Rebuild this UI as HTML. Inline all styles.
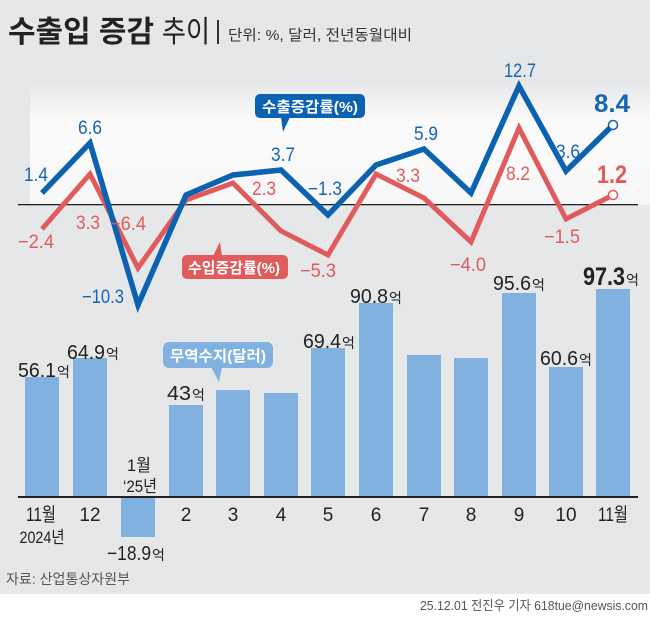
<!DOCTYPE html>
<html><head><meta charset="utf-8"><style>
body{margin:0;width:650px;height:618px;overflow:hidden;background:#fff}
svg{display:block}
text{font-family:"Liberation Sans","Noto Sans CJK KR",sans-serif}
</style></head><body>
<svg width="650" height="618" viewBox="0 0 650 618" xmlns="http://www.w3.org/2000/svg">
<defs>
<linearGradient id="g" x1="0" y1="0" x2="0" y2="1">
<stop offset="0" stop-color="#e6e7e9"/><stop offset="0.35" stop-color="#fbfbfb"/><stop offset="1" stop-color="#f7f7f7"/>
</linearGradient>
</defs>
<rect x="0" y="0" width="650" height="594" fill="#e6e7e9"/>
<rect x="30" y="80" width="620" height="125" fill="url(#g)"/>
<text x="8" y="42" font-size="30" font-weight="bold" fill="#222" textLength="146" lengthAdjust="spacingAndGlyphs">수출입 증감</text>
<text x="162" y="42" font-size="30" fill="#222" textLength="48" lengthAdjust="spacingAndGlyphs">추이</text>
<rect x="217" y="20" width="2" height="24" fill="#333"/>
<text x="228" y="40" font-size="15" fill="#333" textLength="184" lengthAdjust="spacingAndGlyphs">단위: %, 달러, 전년동월대비</text>
<g fill="#80b1df">
<rect x="25" y="377" width="34" height="120"/>
<rect x="73" y="358" width="34" height="139"/>
<rect x="121" y="497" width="34" height="40"/>
<rect x="169" y="405" width="34" height="92"/>
<rect x="216" y="390" width="34" height="107"/>
<rect x="264" y="393" width="34" height="104"/>
<rect x="311" y="348" width="34" height="149"/>
<rect x="359" y="303" width="34" height="194"/>
<rect x="407" y="355" width="34" height="142"/>
<rect x="454" y="358" width="34" height="139"/>
<rect x="502" y="293" width="34" height="204"/>
<rect x="549" y="367" width="34" height="130"/>
<rect x="596" y="289" width="34" height="208"/>
</g>
<rect x="18" y="496" width="620" height="2" fill="#222"/>
<rect x="18" y="204" width="620" height="1.3" fill="#222"/>
<polyline fill="none" stroke="#e05b5b" stroke-width="5" points="42,229 90,174 138,268 186,200 233,183 281,231 328,255 376,174 424,198 471,242 519,128 566,219 613,195"/>
<polyline fill="none" stroke="#0b62b1" stroke-width="5.5" points="42,193 90,143 138,305 186,195 233,175 281,170 328,215 376,165 424,149 471,193 519,86 566,171 613,125"/>
<circle cx="613" cy="125" r="4.5" fill="#fff" stroke="#0b62b1" stroke-width="1.5"/>
<circle cx="613" cy="195" r="4.5" fill="#fff" stroke="#e05b5b" stroke-width="1.5"/>
<rect x="255" y="94" width="110" height="24" rx="5" fill="#0b62b1"/>
<polygon points="281,117 290,117 283,132" fill="#0b62b1"/>
<text x="262" y="112" font-size="15" font-weight="bold" fill="#fff" textLength="96" lengthAdjust="spacingAndGlyphs">수출증감률(%)</text>
<rect x="182" y="255" width="106" height="24" rx="5" fill="#e05b5b"/>
<polygon points="213,256 222,256 220,242" fill="#e05b5b"/>
<text x="188" y="273" font-size="15" font-weight="bold" fill="#fff" textLength="92" lengthAdjust="spacingAndGlyphs">수입증감률(%)</text>
<rect x="163" y="342" width="110" height="26" rx="6" fill="#80b1df"/>
<polygon points="211,367 222,367 219,382" fill="#80b1df"/>
<text x="170" y="361" font-size="15" font-weight="bold" fill="#fff" textLength="96" lengthAdjust="spacingAndGlyphs">무역수지(달러)</text>
<g font-size="19" fill="#1565b5">
<text x="24" y="181" textLength="24" lengthAdjust="spacingAndGlyphs">1.4</text>
<text x="78" y="134" textLength="24" lengthAdjust="spacingAndGlyphs">6.6</text>
<text x="82" y="303" textLength="42" lengthAdjust="spacingAndGlyphs">−10.3</text>
<text x="271" y="161" textLength="24" lengthAdjust="spacingAndGlyphs">3.7</text>
<text x="308" y="195" textLength="34" lengthAdjust="spacingAndGlyphs">−1.3</text>
<text x="414" y="140" textLength="24" lengthAdjust="spacingAndGlyphs">5.9</text>
<text x="504" y="77" textLength="32" lengthAdjust="spacingAndGlyphs">12.7</text>
<text x="556" y="158" textLength="24" lengthAdjust="spacingAndGlyphs">3.6</text>
<text x="594" y="112" font-size="25" font-weight="bold" textLength="36" lengthAdjust="spacingAndGlyphs">8.4</text>
</g>
<g font-size="19" fill="#e05b5b">
<text x="18" y="248" textLength="36" lengthAdjust="spacingAndGlyphs">−2.4</text>
<text x="76" y="229" textLength="24" lengthAdjust="spacingAndGlyphs">3.3</text>
<text x="110" y="230" textLength="36" lengthAdjust="spacingAndGlyphs">−6.4</text>
<text x="252" y="195" textLength="24" lengthAdjust="spacingAndGlyphs">2.3</text>
<text x="300" y="277" textLength="36" lengthAdjust="spacingAndGlyphs">−5.3</text>
<text x="396" y="182" textLength="24" lengthAdjust="spacingAndGlyphs">3.3</text>
<text x="450" y="271" textLength="36" lengthAdjust="spacingAndGlyphs">−4.0</text>
<text x="506" y="180" textLength="24" lengthAdjust="spacingAndGlyphs">8.2</text>
<text x="544" y="243" textLength="36" lengthAdjust="spacingAndGlyphs">−1.5</text>
<text x="597" y="183" font-size="25" font-weight="bold" textLength="30" lengthAdjust="spacingAndGlyphs">1.2</text>
</g>
<g font-size="20" fill="#222">
<text x="18" y="377" textLength="38" lengthAdjust="spacingAndGlyphs">56.1</text>
<text x="57" y="377" font-size="14">억</text>
<text x="67" y="359" textLength="38" lengthAdjust="spacingAndGlyphs">64.9</text>
<text x="106" y="359" font-size="14">억</text>
<text x="167" y="400" textLength="24" lengthAdjust="spacingAndGlyphs">43</text>
<text x="192" y="400" font-size="14">억</text>
<text x="303" y="348" textLength="38" lengthAdjust="spacingAndGlyphs">69.4</text>
<text x="342" y="348" font-size="14">억</text>
<text x="350" y="303" textLength="38" lengthAdjust="spacingAndGlyphs">90.8</text>
<text x="389" y="303" font-size="14">억</text>
<text x="493" y="290" textLength="38" lengthAdjust="spacingAndGlyphs">95.6</text>
<text x="532" y="290" font-size="14">억</text>
<text x="540" y="365" textLength="38" lengthAdjust="spacingAndGlyphs">60.6</text>
<text x="579" y="365" font-size="14">억</text>
<text x="583" y="285" font-size="25" font-weight="bold" textLength="42" lengthAdjust="spacingAndGlyphs">97.3</text>
<text x="626" y="285" font-size="14">억</text>
<text x="107" y="560" textLength="44" lengthAdjust="spacingAndGlyphs">−18.9</text>
<text x="152" y="560" font-size="14">억</text>
<text x="127" y="471" font-size="17" textLength="24" lengthAdjust="spacingAndGlyphs">1월</text>
<text x="123" y="492" font-size="17" textLength="34" lengthAdjust="spacingAndGlyphs">‘25년</text>
</g>
<g font-size="19" fill="#222" text-anchor="middle">
<text x="41" y="521" textLength="30" lengthAdjust="spacingAndGlyphs">11월</text>
<text x="42" y="543" font-size="17" textLength="45" lengthAdjust="spacingAndGlyphs">2024년</text>
<text x="90" y="521">12</text>
<text x="186" y="521">2</text>
<text x="233" y="521">3</text>
<text x="281" y="521">4</text>
<text x="328" y="521">5</text>
<text x="376" y="521">6</text>
<text x="424" y="521">7</text>
<text x="471" y="521">8</text>
<text x="519" y="521">9</text>
<text x="566" y="521">10</text>
<text x="613" y="521" textLength="30" lengthAdjust="spacingAndGlyphs">11월</text>
</g>
<text x="6" y="584" font-size="14" fill="#555" textLength="124" lengthAdjust="spacingAndGlyphs">자료: 산업통상자원부</text>
<text x="420" y="610" font-size="13" fill="#555" textLength="228" lengthAdjust="spacingAndGlyphs">25.12.01 전진우 기자 618tue@newsis.com</text>
</svg>
</body></html>
